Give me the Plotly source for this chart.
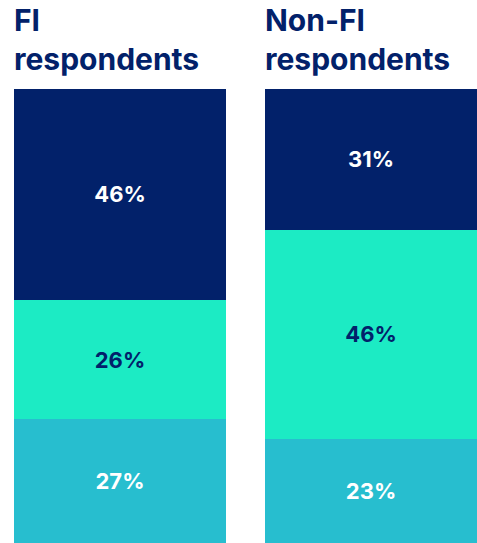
import plotly.graph_objects as go

# Share of respondents per group, stacked top to bottom
groups = ["FI<br>respondents", "Non-FI<br>respondents"]
top_share = [46, 31]
middle_share = [26, 46]
bottom_share = [27, 23]

navy = "#02216A"
mint = "#1CEBC4"
teal = "#27BECF"
font_family = "Inter, Lato, sans-serif"

x_pos = [0, 1]
bar_width = 0.845

fig = go.Figure()
# bottom segment first so it stacks from the base
for vals, color, txt_color in [
    (bottom_share, teal, "white"),
    (middle_share, mint, navy),
    (top_share, navy, "white"),
]:
    fig.add_trace(go.Bar(
        x=x_pos,
        y=vals,
        width=bar_width,
        marker=dict(color=color, line=dict(width=0)),
        text=[f"{v}%" for v in vals],
        textposition="inside",
        insidetextanchor="middle",
        textangle=0,
        textfont=dict(family=font_family, size=22, color=txt_color, weight=700),
        hoverinfo="skip",
        showlegend=False,
    ))

fig.update_layout(
    barmode="stack",
    barnorm="percent",
    width=477,
    height=543,
    margin=dict(l=0, r=0, t=89, b=0),
    paper_bgcolor="white",
    plot_bgcolor="white",
    uniformtext=dict(mode=False),
    xaxis=dict(range=[-0.478, 1.422], visible=False, fixedrange=True),
    yaxis=dict(range=[0, 100], visible=False, fixedrange=True),
)

# Group titles, left-aligned with each bar
for xi, name in zip(x_pos, groups):
    fig.add_annotation(
        x=xi - bar_width / 2, xref="x", xanchor="left",
        y=1 + (89 - 79) / 454, yref="paper", yanchor="bottom",
        text=name, align="left", showarrow=False,
        font=dict(family=font_family, size=30, color=navy, weight=700),
        xshift=-2,
    )

fig.write_html("out.html")
